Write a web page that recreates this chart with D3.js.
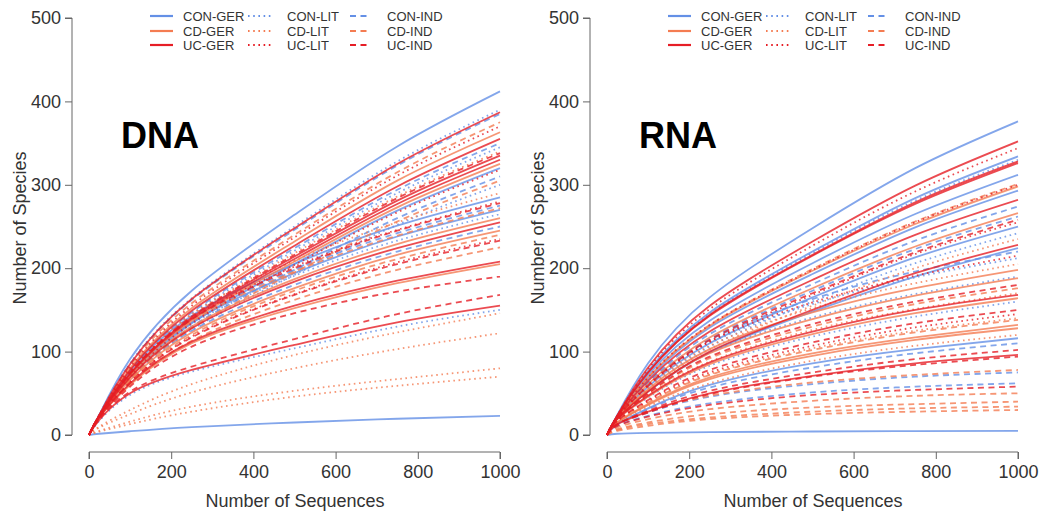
<!DOCTYPE html>
<html>
<head>
<meta charset="utf-8">
<script src="https://cdn.jsdelivr.net/npm/d3@7"></script>
<style>
  body { margin: 0; background: #fff; }
  svg text { font-family: "Liberation Sans", Arial, sans-serif; }
</style>
</head>
<body>
<div id="chart"></div>
<script>
const depths = [0, 25, 100, 250, 500, 750, 1000];

const xTicks = [0, 200, 400, 600, 800, 1000];
const yTicks = [0, 100, 200, 300, 400, 500];

// legend order: column by column
const legendGroups = [
    ["CON-GER", "CD-GER", "UC-GER"],
    ["CON-LIT", "CD-LIT", "UC-LIT"],
    ["CON-IND", "CD-IND", "UC-IND"]
];

// species counts, one row per sample: [group, values at depths]
const dnaCurves = [
    ["CON-GER", [0, 24, 91, 173, 264, 346, 412]],
    ["CON-GER", [0, 22, 70, 134, 205, 269, 320]],
    ["CON-GER", [0, 23, 77, 143, 205, 251, 285]],
    ["CON-GER", [0, 23, 73, 135, 194, 238, 270]],
    ["CON-GER", [0, 1.5, 4.5, 9.5, 15, 19.5, 23]],
    ["CON-LIT", [0, 24, 86, 164, 250, 328, 390]],
    ["CON-LIT", [0, 23, 76, 145, 221, 290, 345]],
    ["CON-LIT", [0, 22, 66, 126, 192, 252, 300]],
    ["CON-LIT", [0, 22, 72, 133, 191, 233, 265]],
    ["CON-LIT", [0, 17, 48, 76, 104, 130, 150]],
    ["CON-IND", [0, 24, 85, 162, 246, 323, 385]],
    ["CON-IND", [0, 23, 77, 147, 224, 294, 350]],
    ["CON-IND", [0, 22, 68, 130, 198, 260, 310]],
    ["CON-IND", [0, 22, 74, 138, 198, 242, 275]],
    ["CON-IND", [0, 22, 68, 125, 180, 220, 250]],
    ["CD-GER", [0, 23, 80, 152, 232, 305, 363]],
    ["CD-GER", [0, 22, 72, 137, 208, 273, 325]],
    ["CD-GER", [0, 22, 70, 130, 187, 229, 260]],
    ["CD-GER", [0, 22, 66, 123, 176, 216, 245]],
    ["CD-GER", [0, 21, 60, 110, 152, 182, 205]],
    ["CD-LIT", [0, 23, 75, 143, 218, 286, 340]],
    ["CD-LIT", [0, 23, 78, 145, 209, 255, 290]],
    ["CD-LIT", [0, 10, 30, 61, 96, 123, 146]],
    ["CD-LIT", [0, 9, 25, 51, 80, 103, 122]],
    ["CD-LIT", [0, 5, 16, 34, 53, 67, 80]],
    ["CD-LIT", [0, 4, 13, 28, 46, 59, 70]],
    ["CD-IND", [0, 23, 83, 158, 240, 315, 375]],
    ["CD-IND", [0, 22, 67, 128, 195, 256, 305]],
    ["CD-IND", [0, 22, 73, 136, 196, 239, 272]],
    ["CD-IND", [0, 22, 65, 120, 173, 211, 240]],
    ["CD-IND", [0, 21, 61, 113, 162, 198, 225]],
    ["UC-GER", [0, 24, 85, 163, 248, 325, 387]],
    ["UC-GER", [0, 23, 78, 149, 227, 298, 355]],
    ["UC-GER", [0, 23, 74, 141, 214, 281, 335]],
    ["UC-GER", [0, 23, 73, 139, 211, 277, 330]],
    ["UC-GER", [0, 22, 69, 128, 184, 224, 255]],
    ["UC-GER", [0, 21, 62, 112, 155, 185, 208]],
    ["UC-GER", [0, 18, 50, 78, 108, 135, 155]],
    ["UC-LIT", [0, 24, 81, 155, 237, 311, 370]],
    ["UC-LIT", [0, 22, 70, 134, 204, 267, 318]],
    ["UC-LIT", [0, 23, 76, 140, 202, 246, 280]],
    ["UC-LIT", [0, 22, 63, 118, 169, 207, 235]],
    ["UC-IND", [0, 23, 74, 142, 216, 284, 338]],
    ["UC-IND", [0, 23, 75, 139, 200, 245, 278]],
    ["UC-IND", [0, 22, 63, 117, 168, 205, 233]],
    ["UC-IND", [0, 20, 58, 106, 146, 172, 190]],
    ["UC-IND", [0, 19, 52, 82, 115, 145, 168]]
];

const rnaCurves = [
    ["CON-GER", [0, 24, 86, 165, 248, 320, 376]],
    ["CON-GER", [0, 23, 77, 147, 220, 284, 334]],
    ["CON-GER", [0, 22, 72, 137, 206, 265, 312]],
    ["CON-GER", [0, 22, 67, 129, 193, 249, 293]],
    ["CON-GER", [0, 21, 58, 110, 165, 213, 250]],
    ["CON-GER", [0, 20, 52, 99, 148, 190, 224]],
    ["CON-GER", [0, 13, 32, 60, 86, 103, 116]],
    ["CON-GER", [0, 1.5, 2.5, 3.5, 4.2, 4.7, 5]],
    ["CON-LIT", [0, 23, 76, 145, 218, 281, 330]],
    ["CON-LIT", [0, 20, 56, 106, 160, 206, 242]],
    ["CON-LIT", [0, 21, 59, 110, 157, 189, 212]],
    ["CON-LIT", [0, 20, 53, 99, 141, 169, 190]],
    ["CON-LIT", [0, 19, 45, 83, 118, 142, 160]],
    ["CON-IND", [0, 21, 63, 121, 181, 233, 274]],
    ["CON-IND", [0, 21, 60, 115, 173, 223, 262]],
    ["CON-IND", [0, 21, 62, 114, 163, 196, 220]],
    ["CON-IND", [0, 13, 31, 57, 81, 98, 110]],
    ["CON-IND", [0, 13, 27, 46, 61, 70, 75]],
    ["CON-IND", [0, 11, 23, 38, 51, 58, 62]],
    ["CD-GER", [0, 22, 69, 131, 197, 253, 298]],
    ["CD-GER", [0, 21, 61, 117, 176, 226, 266]],
    ["CD-GER", [0, 20, 55, 103, 147, 176, 198]],
    ["CD-GER", [0, 20, 53, 98, 139, 167, 188]],
    ["CD-GER", [0, 19, 46, 85, 121, 146, 164]],
    ["CD-GER", [0, 15, 37, 69, 98, 117, 132]],
    ["CD-GER", [0, 15, 36, 67, 95, 114, 128]],
    ["CD-LIT", [0, 20, 54, 103, 155, 200, 235]],
    ["CD-LIT", [0, 20, 57, 107, 152, 182, 205]],
    ["CD-LIT", [0, 19, 48, 88, 126, 151, 170]],
    ["CD-LIT", [0, 17, 39, 73, 104, 125, 140]],
    ["CD-LIT", [0, 15, 34, 62, 89, 107, 120]],
    ["CD-IND", [0, 22, 69, 132, 199, 256, 301]],
    ["CD-IND", [0, 19, 49, 92, 130, 157, 176]],
    ["CD-IND", [0, 17, 39, 72, 102, 123, 138]],
    ["CD-IND", [0, 13, 28, 47, 63, 72, 78]],
    ["CD-IND", [0, 9, 19, 31, 41, 47, 50]],
    ["CD-IND", [0, 7, 15, 25, 33, 37, 40]],
    ["CD-IND", [0, 6, 13, 21, 28, 32, 34]],
    ["CD-IND", [0, 5, 11, 19, 25, 28, 30]],
    ["UC-GER", [0, 23, 81, 155, 232, 299, 352]],
    ["UC-GER", [0, 23, 75, 144, 216, 279, 328]],
    ["UC-GER", [0, 23, 75, 143, 215, 277, 326]],
    ["UC-GER", [0, 22, 65, 124, 186, 240, 282]],
    ["UC-GER", [0, 20, 52, 100, 150, 194, 228]],
    ["UC-GER", [0, 19, 47, 87, 124, 150, 168]],
    ["UC-GER", [0, 13, 28, 50, 71, 86, 96]],
    ["UC-LIT", [0, 23, 79, 151, 227, 292, 344]],
    ["UC-LIT", [0, 22, 69, 132, 198, 255, 300]],
    ["UC-LIT", [0, 21, 59, 112, 168, 217, 255]],
    ["UC-LIT", [0, 21, 60, 112, 159, 191, 215]],
    ["UC-LIT", [0, 17, 41, 75, 107, 129, 145]],
    ["UC-IND", [0, 21, 59, 114, 170, 219, 258]],
    ["UC-IND", [0, 19, 50, 94, 133, 160, 180]],
    ["UC-IND", [0, 17, 42, 78, 111, 134, 150]],
    ["UC-IND", [0, 13, 29, 53, 75, 91, 102]],
    ["UC-IND", [0, 13, 27, 49, 70, 84, 94]],
    ["UC-IND", [0, 11, 22, 36, 48, 54, 58]]
];

const colorScale = d3.scaleOrdinal()
    .domain(["CON", "CD", "UC"])
    .range(["#6490e6", "#f47c52", "#e61e26"]);

const dashScale = d3.scaleOrdinal()
    .domain(["GER", "LIT", "IND"])
    .range(["none", "1.6 3.6", "6 4.5"]);

const width = 1044;
const height = 518;

const svg = d3.select("#chart")
    .append("svg")
    .attr("width", width)
    .attr("height", height);

function drawPanel(curves, title, left) {

    const g = svg.append("g").attr("transform", `translate(${left},0)`);

    const xScale = d3.scaleLinear().domain([0, 1000]).range([89, 500]);
    const yScale = d3.scaleLinear().domain([0, 500]).range([435, 18]);

    /*axes in base-R style: detached from the plot box*/

    const yAxis = g.append("g")
        .attr("transform", "translate(72,0)")
        .call(d3.axisLeft(yScale).tickValues(yTicks).tickSize(7).tickPadding(4).tickFormat(d3.format("d")));

    const xAxis = g.append("g")
        .attr("transform", "translate(0,452)")
        .call(d3.axisBottom(xScale).tickValues(xTicks).tickSize(7).tickPadding(6).tickFormat(d3.format("d")));

    [xAxis, yAxis].forEach(function(ax) {
        ax.select(".domain").attr("stroke", "#666").attr("stroke-width", 1);
        ax.selectAll(".tick line").attr("stroke", "#666");
        ax.selectAll(".tick text")
            .attr("fill", "#333")
            .style("font-size", "18px")
            .style("font-family", "'Liberation Sans', Arial, sans-serif");
    });
    yAxis.select(".domain").attr("d", `M-7,${yScale(500)}H0V${yScale(0)}H-7`);
    xAxis.select(".domain").attr("d", `M${xScale(0)},7V0H${xScale(1000)}V7`);

    g.append("text")
        .attr("x", 295)
        .attr("y", 507)
        .attr("text-anchor", "middle")
        .attr("fill", "#333")
        .style("font-size", "18px")
        .text("Number of Sequences");

    g.append("text")
        .attr("transform", "translate(26,228) rotate(-90)")
        .attr("text-anchor", "middle")
        .attr("fill", "#333")
        .style("font-size", "18px")
        .text("Number of Species");

    /*the curves*/

    const line = d3.line()
        .x(function(d, i) { return xScale(depths[i]); })
        .y(function(d) { return yScale(d); })
        .curve(d3.curveNatural);

    g.append("g").selectAll("path")
        .data(curves)
        .enter()
        .append("path")
            .attr("d", function(d) { return line(d[1]); })
            .attr("fill", "none")
            .attr("stroke", function(d) { return colorScale(d[0].split("-")[0]); })
            .attr("stroke-dasharray", function(d) { return dashScale(d[0].split("-")[1]); })
            .attr("stroke-width", 1.8)
            .attr("stroke-opacity", 0.8);

    g.append("text")
        .attr("x", 121)
        .attr("y", 148)
        .attr("font-weight", "bold")
        .attr("fill", "#000")
        .style("font-size", "36px")
        .text(title);

    /*legend*/

    const lineX = [[150, 173], [248, 272], [350, 367]];
    const textX = [183, 287, 387];
    const rowY = [16, 31, 45];

    legendGroups.forEach(function(col, ci) {
        col.forEach(function(name, ri) {
            const parts = name.split("-");
            g.append("line")
                .attr("x1", lineX[ci][0])
                .attr("x2", lineX[ci][1])
                .attr("y1", rowY[ri])
                .attr("y2", rowY[ri])
                .attr("stroke", colorScale(parts[0]))
                .attr("stroke-width", 2.2)
                .attr("stroke-dasharray", dashScale(parts[1]));
            g.append("text")
                .attr("x", textX[ci])
                .attr("y", rowY[ri] + 5)
                .attr("fill", "#333")
                .style("font-size", "13px")
                .text(name);
        });
    });
}

drawPanel(dnaCurves, "DNA", 0);
drawPanel(rnaCurves, "RNA", 518);
</script>
</body>
</html>
